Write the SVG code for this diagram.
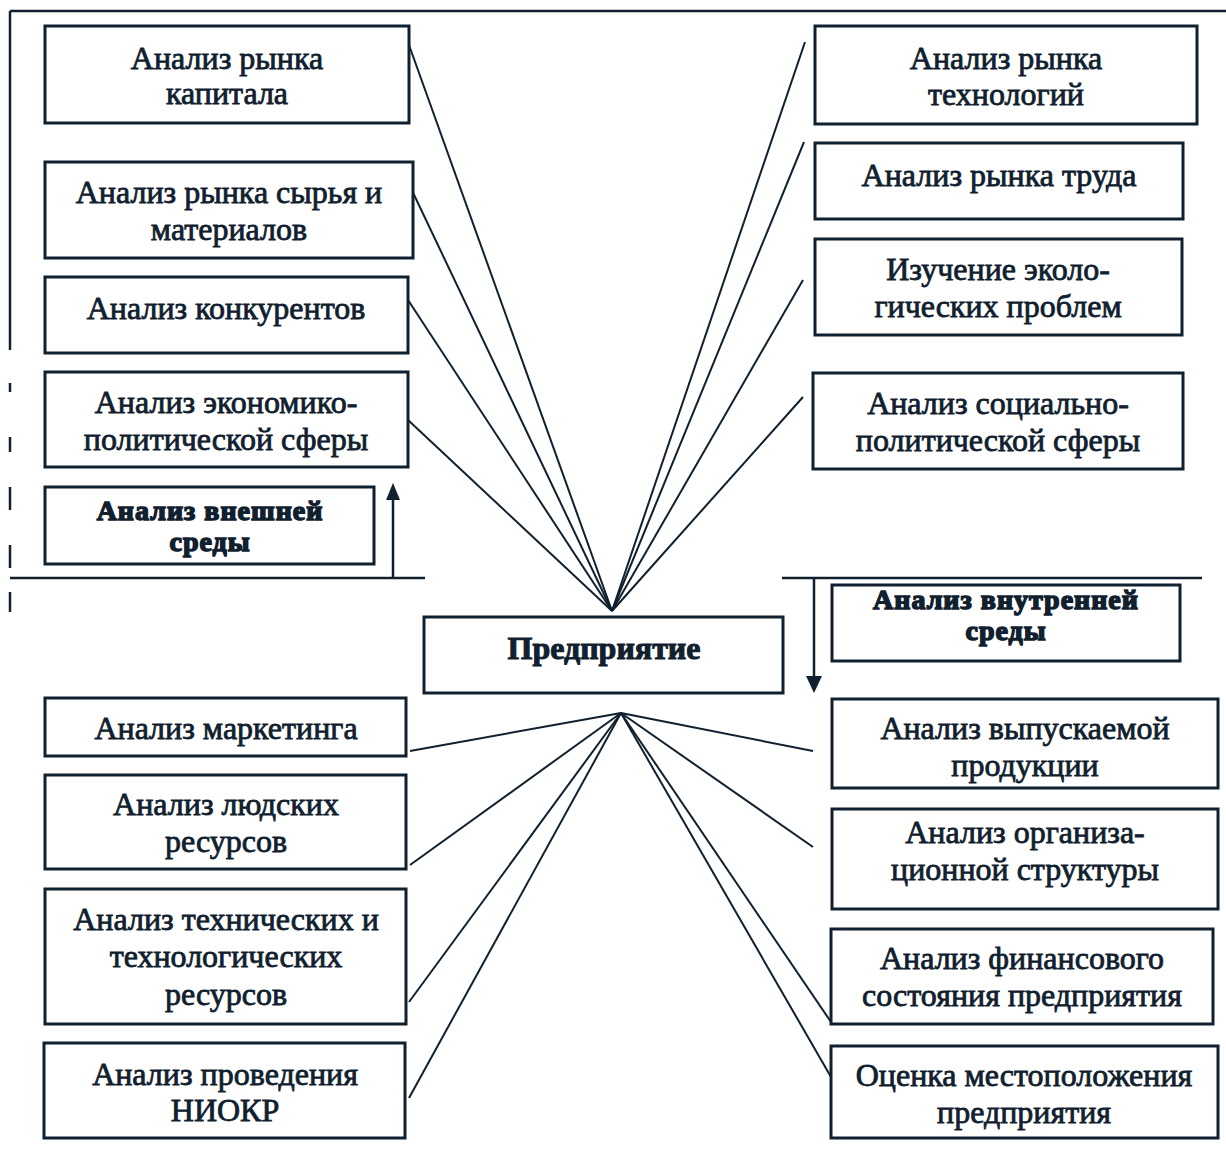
<svg xmlns="http://www.w3.org/2000/svg" width="1226" height="1155" viewBox="0 0 1226 1155">
<defs>
<style>
.box{fill:#fff;stroke:#10202e;stroke-width:3}
.t{font-family:"Liberation Serif","Times New Roman",serif;font-size:32px;fill:#10202e;text-anchor:middle;stroke:#10202e;stroke-width:0.8}
.b{font-family:"Liberation Serif","Times New Roman",serif;font-size:28px;font-weight:bold;fill:#10202e;text-anchor:middle;stroke:#10202e;stroke-width:1.5;letter-spacing:1px}
.p{font-family:"Liberation Serif","Times New Roman",serif;font-size:32px;font-weight:bold;fill:#10202e;text-anchor:middle;stroke:#10202e;stroke-width:1}
.c{stroke:#10202e;stroke-width:2;fill:none}
.f{stroke:#10202e;stroke-width:2.5;fill:none}
</style>
</defs>
<rect width="1226" height="1155" fill="#fff"/>
<g id="frame">
<line class="f" x1="10" y1="11" x2="1226" y2="11"/>
<line class="f" x1="10" y1="11" x2="10" y2="350"/>
<line class="f" x1="10" y1="383" x2="10" y2="392"/>
<line class="f" x1="10" y1="437" x2="10" y2="452"/>
<line class="f" x1="10" y1="487" x2="10" y2="510"/>
<line class="f" x1="10" y1="545" x2="10" y2="568"/>
<line class="f" x1="10" y1="592" x2="10" y2="612"/>
<line class="f" x1="10" y1="578" x2="425" y2="578"/>
<line class="f" x1="782" y1="578" x2="1202" y2="578"/>
<line class="f" x1="393" y1="578" x2="393" y2="500"/>
<path d="M386,500 L400,500 L393,483 Z" fill="#10202e"/>
<line class="f" x1="814" y1="578" x2="814" y2="676"/>
<path d="M806,676 L822,676 L814,693 Z" fill="#10202e"/>
</g>
<g id="connectors">
<line class="c" x1="409" y1="45" x2="612" y2="611"/>
<line class="c" x1="407" y1="180" x2="612" y2="611"/>
<line class="c" x1="408" y1="300" x2="612" y2="611"/>
<line class="c" x1="408" y1="420" x2="612" y2="611"/>
<line class="c" x1="805" y1="42" x2="612" y2="611"/>
<line class="c" x1="804" y1="142" x2="612" y2="611"/>
<line class="c" x1="803" y1="280" x2="612" y2="611"/>
<line class="c" x1="803" y1="397" x2="612" y2="611"/>
<line class="c" x1="410" y1="751" x2="621" y2="713"/>
<line class="c" x1="410" y1="865" x2="621" y2="713"/>
<line class="c" x1="409" y1="1002" x2="621" y2="713"/>
<line class="c" x1="409" y1="1098" x2="621" y2="713"/>
<line class="c" x1="813" y1="751" x2="621" y2="713"/>
<line class="c" x1="813" y1="847" x2="621" y2="713"/>
<line class="c" x1="831" y1="1022" x2="621" y2="713"/>
<line class="c" x1="831" y1="1077" x2="621" y2="713"/>
</g>
<g id="n-capital"><rect class="box" x="45" y="26" width="364" height="97"/><text class="t" x="227" y="69">Анализ рынка</text><text class="t" x="227" y="104">капитала</text></g>
<g id="n-raw"><rect class="box" x="45" y="162" width="368" height="96"/><text class="t" x="229" y="203">Анализ рынка сырья и</text><text class="t" x="229" y="240">материалов</text></g>
<g id="n-compet"><rect class="box" x="45" y="277" width="363" height="76"/><text class="t" x="226" y="319">Анализ конкурентов</text></g>
<g id="n-econ"><rect class="box" x="45" y="372" width="363" height="95"/><text class="t" x="226" y="413">Анализ экономико-</text><text class="t" x="226" y="450">политической сферы</text></g>
<g id="n-external"><rect class="box" x="45" y="487" width="329" height="77"/><text class="b" x="210" y="520">Анализ внешней</text><text class="b" x="210" y="551">среды</text></g>
<g id="n-tech"><rect class="box" x="815" y="26" width="382" height="98"/><text class="t" x="1006" y="69">Анализ рынка</text><text class="t" x="1006" y="105">технологий</text></g>
<g id="n-labor"><rect class="box" x="815" y="143" width="368" height="76"/><text class="t" x="999" y="186">Анализ рынка труда</text></g>
<g id="n-eco"><rect class="box" x="815" y="239" width="367" height="96"/><text class="t" x="998" y="280">Изучение эколо-</text><text class="t" x="998" y="317">гических проблем</text></g>
<g id="n-social"><rect class="box" x="813" y="373" width="370" height="96"/><text class="t" x="998" y="414">Анализ социально-</text><text class="t" x="998" y="451">политической сферы</text></g>
<g id="n-enterprise"><rect class="box" x="424" y="617" width="359" height="76"/><text class="p" x="604" y="659">Предприятие</text></g>
<g id="n-internal"><rect class="box" x="832" y="585" width="348" height="76"/><text class="b" x="1006" y="609">Анализ внутренней</text><text class="b" x="1006" y="640">среды</text></g>
<g id="n-marketing"><rect class="box" x="45" y="698" width="361" height="58"/><text class="t" x="226" y="739">Анализ маркетинга</text></g>
<g id="n-human"><rect class="box" x="45" y="775" width="361" height="94"/><text class="t" x="226" y="815">Анализ людских</text><text class="t" x="226" y="852">ресурсов</text></g>
<g id="n-techres"><rect class="box" x="45" y="889" width="361" height="135"/><text class="t" x="226" y="930">Анализ технических и</text><text class="t" x="226" y="967">технологических</text><text class="t" x="226" y="1005">ресурсов</text></g>
<g id="n-rnd"><rect class="box" x="44" y="1043" width="361" height="95"/><text class="t" x="225" y="1085">Анализ проведения</text><text class="t" x="225" y="1121">НИОКР</text></g>
<g id="n-product"><rect class="box" x="832" y="699" width="386" height="89"/><text class="t" x="1025" y="739">Анализ выпускаемой</text><text class="t" x="1025" y="776">продукции</text></g>
<g id="n-org"><rect class="box" x="832" y="809" width="386" height="100"/><text class="t" x="1025" y="843">Анализ организа-</text><text class="t" x="1025" y="880">ционной структуры</text></g>
<g id="n-finance"><rect class="box" x="831" y="929" width="382" height="95"/><text class="t" x="1022" y="969">Анализ финансового</text><text class="t" x="1022" y="1006">состояния предприятия</text></g>
<g id="n-location"><rect class="box" x="831" y="1046" width="387" height="92"/><text class="t" x="1024" y="1086">Оценка местоположения</text><text class="t" x="1024" y="1123">предприятия</text></g>
</svg>
